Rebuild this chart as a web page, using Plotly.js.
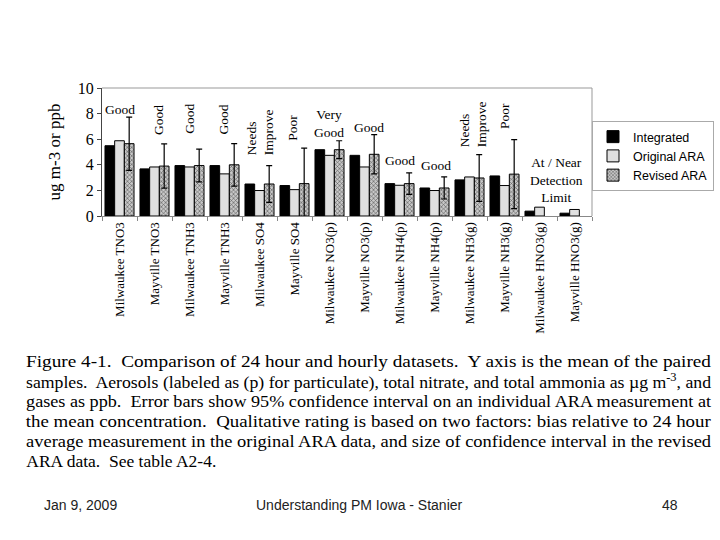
<!DOCTYPE html>
<html>
<head>
<meta charset="utf-8">
<script src="https://cdn.plot.ly/plotly-3.0.1.min.js"></script>
<style>html,body{margin:0;padding:0;background:#fff;}#chart{width:720px;height:540px;}</style>
</head>
<body>
<div id="chart"></div>
<script>
// ---- data ----
const categories = ["Milwaukee TNO3", "Mayville TNO3", "Milwaukee TNH3", "Mayville TNH3",
  "Milwaukee SO4", "Mayville SO4", "Milwaukee NO3(p)", "Mayville NO3(p)",
  "Milwaukee NH4(p)", "Mayville NH4(p)", "Milwaukee NH3(g)", "Mayville NH3(g)",
  "Milwaukee HNO3(g)", "Mayville HNO3(g)"];
const integrated  = [5.49, 3.68, 3.94, 3.94, 2.50, 2.38, 5.18, 4.74, 2.53, 2.19, 2.82, 3.13, 0.38, 0.22];
const originalARA = [5.88, 3.83, 3.83, 3.29, 1.99, 2.06, 4.74, 3.83, 2.40, 1.99, 3.05, 2.38, 0.69, 0.51];
const revisedARA  = [5.65, 3.90, 3.94, 4.00, 2.50, 2.53, 5.18, 4.82, 2.53, 2.19, 2.97, 3.27, null, null];
const revisedCI   = [2.08, 1.73, 1.28, 1.66, 1.43, 2.78, 0.70, 1.53, 0.84, 0.86, 1.82, 2.69, null, null];
const ratings = ["Good", "Good", "Good", "Good", "Needs<br>Improve", "Poor", "Very<br>Good", "Good",
  "Good", "Good", "Needs<br>Improve", "Poor", "At / Near<br>Detection<br>Limit"];
const seriesNames = ["Integrated", "Original ARA", "Revised ARA"];
const yTitle = "ug m-3 or ppb";
const captionLines = [
  "Figure 4-1.  Comparison of 24 hour and hourly datasets.  Y axis is the mean of the paired",
  "samples.  Aerosols (labeled as (p) for particulate), total nitrate, and total ammonia as \u00b5g m<sup>-3</sup>, and",
  "gases as ppb.  Error bars show 95% confidence interval on an individual ARA measurement at",
  "the mean concentration.  Qualitative rating is based on two factors: bias relative to 24 hour",
  "average measurement in the original ARA data, and size of confidence interval in the revised",
  "ARA data.  See table A2-4."
];
const footer = ["Jan 9, 2009", "Understanding PM Iowa - Stanier", "48"];

// ---- layout helpers ----
const L = 102, R = 593, T = 88, B = 216;
const px = x => (x - L) / (R - L);
const py = y => (B - y) / (B - T);
const SERIF = "Liberation Serif";
const SANS = "Liberation Sans";

const traces = [
  {type: "bar", name: seriesNames[0], x: categories, y: integrated,
   marker: {color: "#000", line: {color: "#000", width: 1}}},
  {type: "bar", name: seriesNames[1], x: categories, y: originalARA,
   marker: {color: "#e0e0e0", line: {color: "#000", width: 1}}},
  {type: "bar", name: seriesNames[2], x: categories, y: revisedARA,
   marker: {color: "#c8c8c8", line: {color: "#000", width: 1},
            pattern: {shape: "x", fgcolor: "#555", bgcolor: "#c8c8c8", size: 3, solidity: 0.35}},
   error_y: {type: "data", array: revisedCI, visible: true, color: "#000", thickness: 1.2, width: 3}}
];

// rating label placement: [category index, y center, angle, xshift]
const ratingPos = [[0, 8.29, 0, 0], [1, 7.47, -90, 4], [2, 7.55, -90, 0], [3, 7.5, -90, -2],
  [4, 6.5, -90, 1], [5, 6.85, -90, -2], [6, 7.2, 0, -1], [7, 6.89, 0, 4],
  [8, 4.32, 0, 0], [9, 3.97, 0, 1], [10, 7.12, -90, 4], [11, 7.78, -90, 0], [12, 2.8, 0, 17]];

const annotations = [];
ratingPos.forEach((p, i) => {
  annotations.push({x: categories[p[0]], y: p[1], xref: "x", yref: "y", text: ratings[i],
    textangle: p[2], xshift: p[3], showarrow: false, align: p[2] ? "left" : "center",
    xanchor: "center", yanchor: "middle", font: {family: SERIF, size: 13.5, color: "#000"}});
});
// caption lines: [center x px, rendered width px]
const capBox = [[369.5, 685], [369.5, 685], [369.5, 685], [369.5, 685], [369.5, 685], [122, 190]];
captionLines.forEach((t, i) => {
  annotations.push({x: px(capBox[i][0]), y: py(361 + 20 * i),
    xref: "paper", yref: "paper",
    text: t, showarrow: false, xanchor: "center", yanchor: "middle",
    font: {family: SERIF, size: 17, color: "#000"}, name: "cap" + i});
});
[80, 360, 671].forEach((x, i) => {
  annotations.push({x: px(x), y: py(505), xref: "paper", yref: "paper", text: footer[i],
    showarrow: false, xanchor: "center", yanchor: "middle",
    font: {family: SANS, size: 14, color: "#222"}});
});

const layout = {
  width: 720, height: 540,
  margin: {l: L, r: 720 - R, t: T, b: 540 - B},
  paper_bgcolor: "#fff", plot_bgcolor: "#fff",
  barmode: "group", bargap: 0.17, bargroupgap: 0,
  showlegend: true,
  legend: {xref: "container", yref: "container", x: 592 / 720, y: 1 - 121 / 540,
    xanchor: "left", yanchor: "top",
    bordercolor: "#aaa", borderwidth: 1, bgcolor: "#fff",
    font: {family: SANS, size: 12.5, color: "#000"}, itemwidth: 30},
  xaxis: {type: "category", tickangle: -90, tickfont: {family: SERIF, size: 13, color: "#000"},
    showline: true, linecolor: "#888", linewidth: 1, ticks: "outside", tickson: "boundaries",
    ticklen: 4, tickcolor: "#888", showgrid: false, fixedrange: true, automargin: false},
  yaxis: {range: [0, 10], dtick: 2, tick0: 0, showline: true, linecolor: "#444", linewidth: 1,
    ticks: "outside", ticklen: 4, tickcolor: "#444", showgrid: false, zeroline: false,
    tickfont: {family: SERIF, size: 16, color: "#000"}, automargin: false,
    title: {text: yTitle, font: {family: SERIF, size: 17, color: "#000"}, standoff: 12}},
  shapes: [
    {type: "line", xref: "paper", yref: "paper", x0: 0, x1: 1, y0: 1, y1: 1, line: {color: "#999", width: 1}},
    {type: "line", xref: "paper", yref: "paper", x0: 1, x1: 1, y0: 0, y1: 1, line: {color: "#999", width: 1}}
  ],
  annotations: annotations
};

Plotly.newPlot("chart", traces, layout, {displayModeBar: false, staticPlot: true}).then(gd => {
  // fit caption lines to the justified text block widths
  gd.querySelectorAll(".annotation").forEach(g => {
    const a = layout.annotations[+g.getAttribute("data-index")];
    if (a && a.name && a.name.indexOf("cap") === 0) {
      const w = capBox[+a.name.slice(3)][1];
      const t = g.querySelector("text.annotation-text");
      if (t) { t.setAttribute("textLength", w); t.setAttribute("lengthAdjust", "spacingAndGlyphs"); }
    }
  });
});
</script>
</body>
</html>
